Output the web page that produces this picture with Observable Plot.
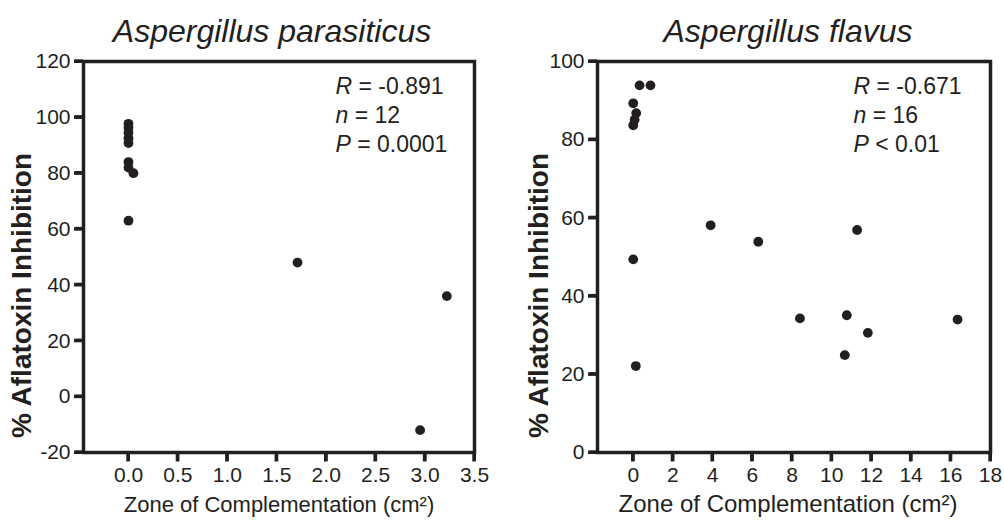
<!DOCTYPE html>
<html>
<head>
<meta charset="utf-8">
<script src="https://cdn.jsdelivr.net/npm/d3@7"></script>
<script src="https://cdn.jsdelivr.net/npm/@observablehq/plot@0.6"></script>
<style>
  html, body { margin: 0; padding: 0; background: #fff; }
  #wrap { display: flex; width: 1004px; height: 520px; }
  svg { font-family: "Liberation Sans", Arial, sans-serif; }
</style>
</head>
<body>
<div id="wrap"></div>
<script>
// ---- Data ----
const parTitle = "Aspergillus parasiticus";
const parX = [0, 0, 0, 0, 0, 0, 0, 0.05, 0, 1.71, 2.95, 3.22];
const parY = [97.7, 96.3, 94.5, 92.5, 90.8, 84, 82, 80, 63, 48, -12, 36];
const parStats = ["R = -0.891", "n = 12", "P = 0.0001"];
const parXTicks = [0, 0.5, 1, 1.5, 2, 2.5, 3, 3.5];
const parYTicks = [-20, 0, 20, 40, 60, 80, 100, 120];

const flaTitle = "Aspergillus flavus";
const flaX = [0.32, 0.87, 0, 0.15, 0.07, 0, 0, 0.13, 3.9, 6.3, 11.28, 8.4, 10.76, 11.82, 16.34, 10.66];
const flaY = [93.9, 93.9, 89.3, 86.8, 85.1, 83.7, 49.4, 22.1, 58.1, 53.9, 56.9, 34.3, 35.1, 30.6, 34.0, 24.9];
const flaStats = ["R = -0.671", "n = 16", "P < 0.01"];
const flaXTicks = [0, 2, 4, 6, 8, 10, 12, 14, 16, 18];
const flaYTicks = [0, 20, 40, 60, 80, 100];

const xLabel = "Zone of Complementation (cm²)";
const yLabel = "% Aflatoxin Inhibition";

const ink = "#231f20";
const NS = "http://www.w3.org/2000/svg";

function panel(cfg) {
  const pts = cfg.xs.map((x, i) => ({x, y: cfg.ys[i]}));
  const xMin = cfg.xDomain[0], yMin = cfg.yDomain[0];
  const svg = Plot.plot({
    width: 502,
    height: 520,
    marginTop: 61,
    marginBottom: 68,
    marginLeft: cfg.ml,
    marginRight: cfg.mr,
    style: {fontFamily: '"Liberation Sans", Arial, sans-serif', background: "#fff", color: ink},
    x: {domain: cfg.xDomain, axis: null},
    y: {domain: cfg.yDomain, axis: null},
    marks: [
      Plot.axisX({ticks: cfg.xTicks, tickFormat: cfg.xFormat, tickSize: 9, tickPadding: 6,
                  fontSize: cfg.tickFont, label: null, strokeWidth: 3}),
      Plot.axisY({ticks: cfg.yTicks, tickFormat: d => String(d), tickSize: 9, tickPadding: 4,
                  fontSize: cfg.tickFont, label: null, strokeWidth: 3}),
      // solid tick marks at the axis ticks, sized in pixels via insets
      Plot.rect(cfg.xTicks, {x1: d => d, x2: d => d, y1: yMin, y2: yMin,
                  insetLeft: -1.7, insetRight: -1.7, insetTop: 0, insetBottom: -9.5, fill: ink}),
      Plot.rect(cfg.yTicks, {y1: d => d, y2: d => d, x1: xMin, x2: xMin,
                  insetTop: -1.7, insetBottom: -1.7, insetLeft: -8.5, insetRight: 0, fill: ink}),
      Plot.frame({stroke: ink, strokeWidth: 3.5}),
      Plot.dot(pts, {x: "x", y: "y", r: 4.9, fill: ink, stroke: null}),
      Plot.text([cfg.title], {frameAnchor: "top", dy: -30, dx: cfg.titleDx, fontSize: 32,
                  fontStyle: "italic", fill: ink, lineAnchor: "middle", textAnchor: "middle"}),
      Plot.text(cfg.stats, {text: d => d, frameAnchor: "top-left", dx: cfg.statDx,
                  fontSize: 23, fill: ink, textAnchor: "start", lineAnchor: "middle"}),
      Plot.text([xLabel], {frameAnchor: "bottom", dy: 52, dx: cfg.xlDx, fontSize: cfg.xlFont, fill: ink,
                  lineAnchor: "middle", textAnchor: "middle"}),
      Plot.text([yLabel], {frameAnchor: "left", dx: cfg.ylDx, dy: 38.5, rotate: -90, fontSize: 28,
                  fontWeight: "bold", fill: ink, lineAnchor: "middle", textAnchor: "middle"})
    ]
  });
  // stat lines: italic leading variable, stacked lines
  const statTexts = Array.from(svg.querySelectorAll("text")).filter(t => cfg.stats.includes(t.textContent));
  statTexts.forEach(t => {
    const s = t.textContent;
    const idx = cfg.stats.indexOf(s);
    t.textContent = "";
    const a = document.createElementNS(NS, "tspan");
    a.setAttribute("font-style", "italic");
    a.textContent = s[0];
    const b = document.createElementNS(NS, "tspan");
    b.style.whiteSpace = "pre";
    b.textContent = s.slice(1);
    t.appendChild(a);
    t.appendChild(b);
    const yy = parseFloat(t.getAttribute("y") || "0");
    t.setAttribute("y", yy + cfg.statTop + idx * 29);
  });
  return svg;
}

const wrap = document.getElementById("wrap");
wrap.appendChild(panel({
  xs: parX, ys: parY, stats: parStats, title: parTitle,
  xDomain: [-0.455, 3.5], yDomain: [-20, 120],
  xTicks: parXTicks, yTicks: parYTicks, xFormat: d3.format(".1f"), tickFont: 21, xlFont: 22,
  ml: 83, mr: 28, titleDx: -7, statDx: 252, statTop: 32.5, xlDx: 0, ylDx: -61
}));
wrap.appendChild(panel({
  xs: flaX, ys: flaY, stats: flaStats, title: flaTitle,
  xDomain: [-1.8, 18], yDomain: [0, 100],
  xTicks: flaXTicks, yTicks: flaYTicks, xFormat: d => String(d), tickFont: 21, xlFont: 24,
  ml: 95, mr: 14, titleDx: -6, statDx: 256, statTop: 32.5, xlDx: -6, ylDx: -58
}));
</script>
</body>
</html>
